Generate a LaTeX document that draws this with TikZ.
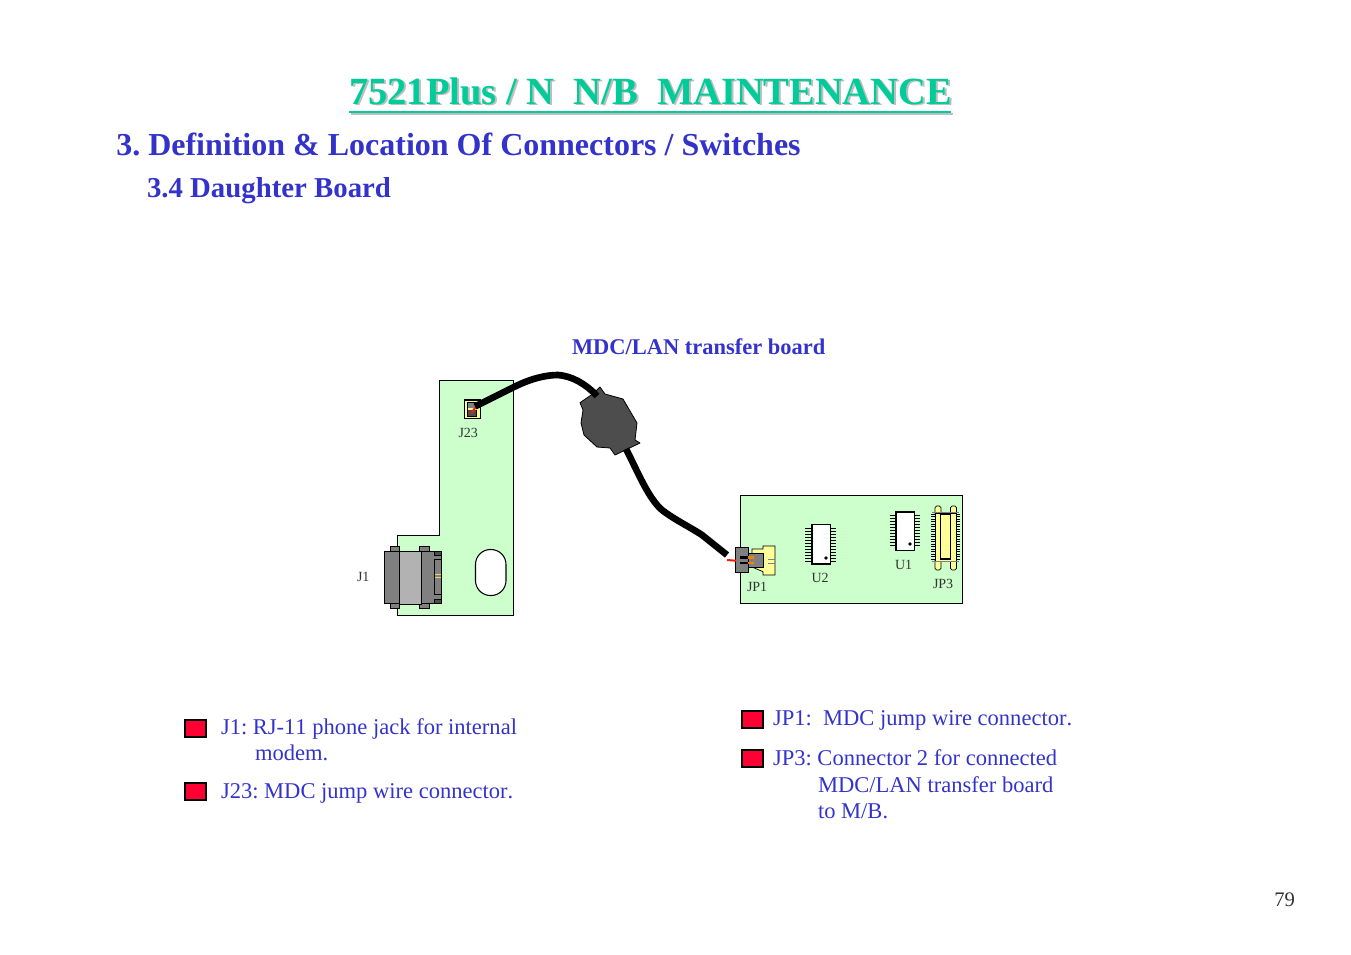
\documentclass[tikz,border=0pt]{standalone}
\usepackage{fontspec}
\setmainfont[Kerning=Off]{Liberation Serif}
\definecolor{titleg}{RGB}{0,204,153}
\definecolor{shadowg}{RGB}{190,190,190}
\definecolor{blu}{RGB}{51,51,204}
\definecolor{board}{RGB}{204,255,204}
\definecolor{cream}{RGB}{255,255,153}
\definecolor{dk}{RGB}{77,77,77}
\definecolor{mid}{RGB}{128,128,128}
\definecolor{lite}{RGB}{178,178,178}
\definecolor{lab}{RGB}{51,51,51}
\definecolor{bulred}{RGB}{255,0,51}
\tikzset{
 txt/.style={anchor=base west,inner sep=0pt,outer sep=0pt,text=blu,font=\fontsize{16.9pt}{20pt}\selectfont},
 sub/.style={anchor=base west,inner sep=0pt,outer sep=0pt,text=blu,font=\bfseries\fontsize{16.85pt}{20pt}\selectfont},
 lbl/.style={anchor=base west,inner sep=0pt,outer sep=0pt,text=lab,font=\fontsize{10.5pt}{11pt}\selectfont},
 bullet/.style={draw=black,fill=bulred,line width=1.5pt,minimum width=15.75pt,minimum height=12.5pt,inner sep=0pt,outer sep=0pt},
 pcb/.style={draw=black,fill=board,line width=0.8pt},
 thin/.style={line width=0.55pt},
 cable/.style={draw=black,line width=5pt,line cap=round,line join=round},
 lobe/.style={draw=black,fill=cream,line width=0.55pt,rounded corners=1.2pt},
}
\begin{document}
\frenchspacing
\begin{tikzpicture}[x=0.75pt,y=-0.75pt]
\useasboundingbox (0,0) rectangle (1351,954);
% titles
\node[anchor=base west,inner sep=0pt,text=shadowg,font=\bfseries\fontsize{28.85pt}{30pt}\selectfont] (tshadow) at (351,105) {7521Plus / N\ \ N/B\ \ MAINTENANCE};
\node[anchor=base west,inner sep=0pt,text=titleg,font=\bfseries\fontsize{28.85pt}{30pt}\selectfont] (title) at (349,104) {7521Plus / N\ \ N/B\ \ MAINTENANCE};
\draw[shadowg,line width=1.5pt] (351,113.5) -- (953,113.5);
\draw[titleg,line width=1.5pt] (349,112.3) -- (951,112.3);
\node[anchor=base west,inner sep=0pt,text=blu,font=\bfseries\fontsize{24pt}{26pt}\selectfont] (h1) at (116,155) {3. Definition \& Location Of Connectors / Switches};
\node[sub,font=\bfseries\fontsize{21.6pt}{24pt}\selectfont] (h2) at (147,197) {3.4 Daughter Board};
\node[sub] (boardname) at (572,354) {MDC/LAN transfer board};
% left board
\draw[pcb] (439.5,380.5) -- (513.5,380.5) -- (513.5,615.5) -- (397.5,615.5) -- (397.5,535.5) -- (439.5,535.5) -- cycle;
\draw[draw=black,fill=white,line width=0.8pt,rounded corners=11.2pt] (475.5,549.5) rectangle (506,595.5);
% J23
\draw[draw=black,fill=cream,line width=0.8pt] (464.5,400) rectangle (480.5,418.5);
\fill[black] (466.7,402.3) rectangle (477.3,416.7);
\fill[cream] (468,407.5) rectangle (477.3,410);
\fill[mid] (468,403.3) rectangle (475.5,407.5);
\fill[dk] (468,410) rectangle (476,415.5);
\node[lbl] (j23) at (458.5,437.2) {J23};
\node[lbl] (j1) at (357,581.2) {J1};
% J1 connector
\draw[draw=black,fill=mid,thin] (390.7,546) rectangle (399.3,551);
\draw[draw=black,fill=mid,thin] (419.3,546) rectangle (429.3,551);
\draw[draw=black,fill=mid,thin] (390.7,603) rectangle (399.3,608);
\draw[draw=black,fill=mid,thin] (419.3,603) rectangle (429.3,608);
\draw[draw=black,fill=mid,thin] (384.3,551) rectangle (399,603.5);
\draw[draw=black,fill=lite,thin] (399,551) rectangle (421.5,604);
\draw[draw=black,fill=mid,thin] (421.5,551) rectangle (441.7,603.3);
\draw[draw=black,fill=dk,thin] (434.3,551.7) rectangle (441.7,555);
\draw[draw=black,fill=mid,thin] (434.3,559.3) rectangle (441.7,594);
\draw[draw=black,fill=dk,thin] (434.3,599) rectangle (441.7,603.3);
\draw[draw=cream!60!orange,line width=0.6pt] (435,574) -- (441,574) (435,577) -- (441,577);
% right board
\draw[pcb,line width=1.1pt] (740.5,495.5) rectangle (962.5,603.5);
% U2
\foreach \y in {528,531,...,561}{\draw[black,line width=0.6pt] (805,\y) -- (812,\y) (830,\y) -- (836,\y);}
\draw[draw=black,fill=white,line width=1.3pt] (812,524.5) rectangle (830.5,564);
\fill[black] (826,558) circle (1.8);
\node[lbl] (u2) at (811.5,582.2) {U2};
% U1
\foreach \y in {515,518,...,547}{\draw[black,line width=0.6pt] (889.5,\y) -- (896,\y) (914,\y) -- (920,\y);}
\draw[draw=black,fill=white,line width=1.3pt] (896,512) rectangle (914.5,550.5);
\fill[black] (910,544) circle (1.8);
\node[lbl] (u1) at (895,569.2) {U1};
% JP3
\draw[lobe] (935,506) rectangle (941,516);
\draw[lobe] (950.5,506) rectangle (956.5,516);
\draw[lobe] (935,558) rectangle (941,570);
\draw[lobe] (950.5,558) rectangle (956.5,570);
\foreach \y in {514,516.5,...,560}{\draw[black,line width=0.45pt] (931,\y) -- (936,\y) (955.5,\y) -- (960,\y);}
\draw[draw=black,fill=cream,thin] (935,513) rectangle (956.5,561);
\draw[mid,line width=0.8pt] (932,512.5) -- (959,512.5) (932,561.5) -- (959,561.5);
\draw[draw=black,fill=cream,line width=1.1pt] (940.7,514) rectangle (950.5,559);
\node[lbl] (jp3) at (933,588.2) {JP3};
% JP1
\draw[draw=black,fill=cream,thin] (752,549) -- (763,549) -- (763,546) -- (775,546) -- (775,575) -- (763,575) -- (763,571.7) -- (752,567) -- cycle;
\draw[mid,line width=0.5pt] (768,559) -- (775,559) (768,563) -- (775,563);
\draw[draw=black,fill=mid,line width=0.7pt] (748,553) rectangle (763,567);
\draw[draw=black,fill=mid,line width=0.7pt] (735.7,547.3) rectangle (748.3,572.7);
\fill[black] (740,556) rectangle (748,558.5);
\fill[black] (740,561.7) rectangle (748,564);
\fill[orange] (748,556) rectangle (754,558.5);
\fill[orange] (748,561.7) rectangle (754,564);
\node[lbl] (jp1) at (747,591.2) {JP1};
% cable
\coordinate (cA) at (475,406.5);
\coordinate (cB) at (597,396);
\coordinate (cC) at (626,449);
\coordinate (cD) at (727,555);
% plug
\draw[draw=black,fill=dk,line width=0.6pt,line join=round] (580,402.7) -- (594,393) -- (600,387) -- (605,394) -- (623,399) -- (637,423) -- (635,440) -- (640,443) -- (615,455) -- (610,448) -- (597,447) -- (584,435) -- (581,423) -- (583,410) -- cycle;
\draw[red!80!orange,line width=1.5pt,line cap=round] (471.5,413) -- (475,408);
\draw[cable,line cap=butt] (cA) -- (514,387) .. controls (530,379) and (545,375) .. (558,375) .. controls (572,376) and (586,384) .. (cB);
\draw[red!80!orange,line width=1.5pt] (727,560) -- (736,560.7);
\draw[cable,line cap=butt] (cC) .. controls (637,470) and (648,498) .. (662,510) .. controls (675,520) and (690,527) .. (702,535) -- (cD);
% legend
\node[bullet] (b1) at (195.5,728.3) {};
\node[bullet] (b2) at (195.5,791.3) {};
\node[bullet] (b3) at (752,719.3) {};
\node[bullet] (b4) at (752,758.3) {};
\node[txt] (t1) at (221,734) {J1: RJ-11 phone jack for internal};
\node[txt] (t1b) at (255,760) {modem.};
\node[txt] (t2) at (221,798) {J23: MDC jump wire connector.};
\node[txt] (t3) at (773,725) {JP1:\ \ MDC jump wire connector.};
\node[txt] (t4) at (773,765) {JP3: Connector 2 for connected};
\node[txt] (t4b) at (818,792) {MDC/LAN transfer board};
\node[txt] (t4c) at (818,818) {to M/B.};
\node[anchor=base west,inner sep=0pt,text=lab,font=\fontsize{15.5pt}{18pt}\selectfont] (pg) at (1274,906) {79};
\end{tikzpicture}
\end{document}
